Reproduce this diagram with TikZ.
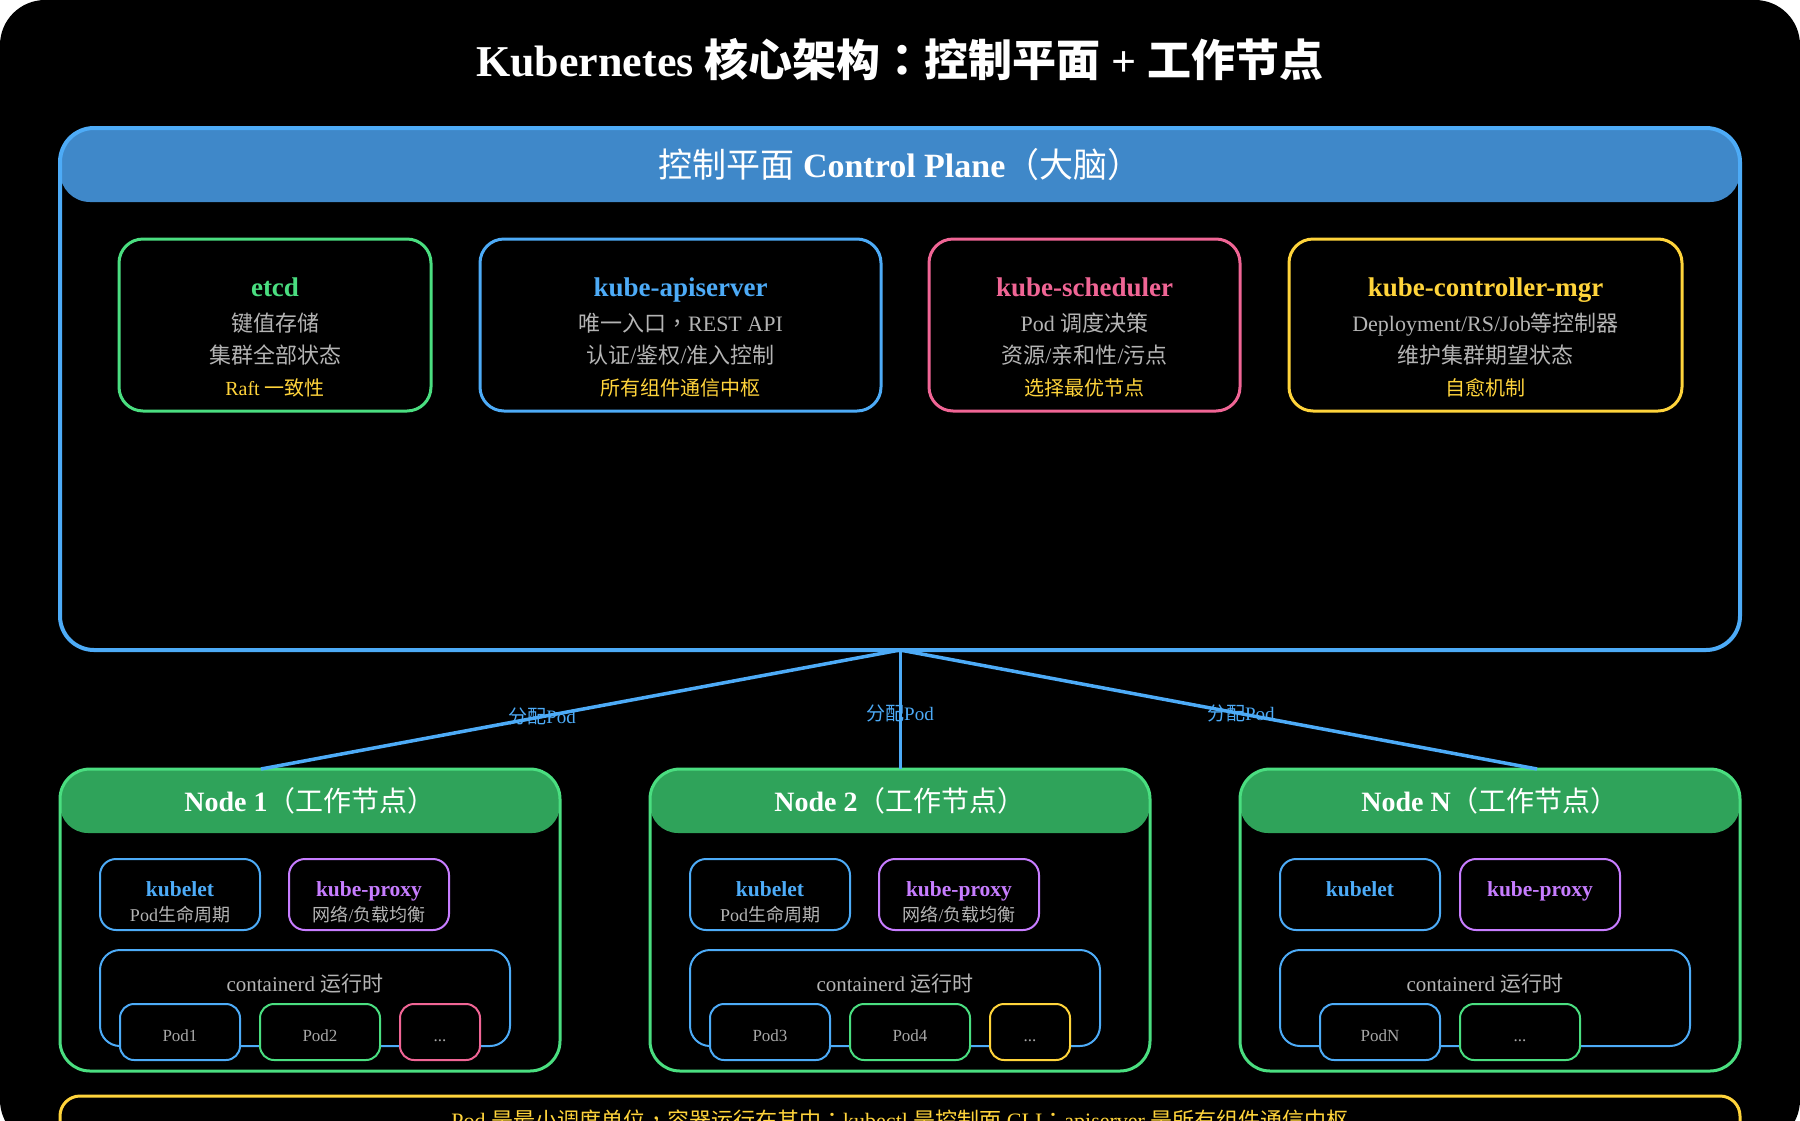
\documentclass[tikz,border=0pt]{standalone}
\usepackage{fontspec}
\setmainfont{Liberation Serif}
\newfontfamily\cjk{Noto Sans CJK SC}
\newfontfamily\cjkpunct{Noto Sans CJK TC}
\usetikzlibrary{positioning,calc}

% Chinese characters switch to the CJK font by themselves
\XeTeXinterchartokenstate=1
\newXeTeXintercharclass\cjkclass
\newXeTeXintercharclass\punctclass
\newcommand\cjkrange[2]{%
  \count255=#1\relax
  \loop
    \XeTeXcharclass\count255=\cjkclass
    \ifnum\count255<#2\relax
    \advance\count255 by 1\relax
  \repeat}
\cjkrange{"3000}{"303F}
\cjkrange{"4E00}{"9FFF}
\cjkrange{"FF00}{"FFEF}
% centred full-width comma, colon, semicolon
\XeTeXcharclass"FF0C=\punctclass
\XeTeXcharclass"FF1A=\punctclass
\XeTeXcharclass"FF1B=\punctclass
\XeTeXinterchartoks 0 \cjkclass = {\begingroup\cjk}
\XeTeXinterchartoks 4095 \cjkclass = {\begingroup\cjk}
\XeTeXinterchartoks \cjkclass 0 = {\endgroup}
\XeTeXinterchartoks \cjkclass 4095 = {\endgroup}
\XeTeXinterchartoks 0 \punctclass = {\begingroup\cjkpunct}
\XeTeXinterchartoks 4095 \punctclass = {\begingroup\cjkpunct}
\XeTeXinterchartoks \punctclass 0 = {\endgroup}
\XeTeXinterchartoks \punctclass 4095 = {\endgroup}
\XeTeXinterchartoks \cjkclass \punctclass = {\endgroup\begingroup\cjkpunct}
\XeTeXinterchartoks \punctclass \cjkclass = {\endgroup\begingroup\cjk}

\definecolor{cpblue}{HTML}{4DABF7}
\definecolor{headblue}{HTML}{3F88C9}
\definecolor{etcdgreen}{HTML}{4ADE80}
\definecolor{nodegreen}{HTML}{4ADE80}
\definecolor{headgreen}{HTML}{2FA35A}
\definecolor{schedpink}{HTML}{F06595}
\definecolor{noteyellow}{HTML}{FFD43B}
\definecolor{proxypurple}{HTML}{C77DFF}
\definecolor{graytext}{HTML}{B4B4B4}
\definecolor{podtext}{HTML}{A8A8A8}

\begin{document}
\begin{tikzpicture}[
  x=1pt, y=-1pt, outer sep=0pt,
  font=\fontsize{22}{32}\selectfont,
  cpframe/.style={draw=cpblue, line width=4pt, rounded corners=34pt, minimum width=1680pt, minimum height=522pt},
  cphead/.style={fill=headblue, rounded corners=30pt, minimum width=1680pt, minimum height=74pt, text=white, font=\fontsize{34}{38}\selectfont},
  comp/.style={draw=#1, line width=3pt, rounded corners=24pt, minimum height=172pt, align=center, text=graytext, inner sep=2pt},
  wframe/.style={draw=nodegreen, line width=3pt, rounded corners=30pt, minimum width=500pt, minimum height=302pt},
  whead/.style={fill=headgreen, rounded corners=28pt, minimum width=500pt, minimum height=64pt, text=white, font=\fontsize{28}{32}\selectfont},
  agent/.style={draw=#1, line width=2pt, rounded corners=16pt, minimum width=160pt, minimum height=71pt, align=center, text=graytext, inner sep=1pt, font=\fontsize{18}{25}\selectfont},
  runtime/.style={draw=cpblue, line width=2pt, rounded corners=20pt, minimum width=410pt, minimum height=96pt, text=graytext, inner sep=1pt, font=\fontsize{21}{25}\selectfont},
  pod/.style={draw=#1, line width=2pt, fill=black, rounded corners=14pt, minimum width=120pt, minimum height=56pt, text height=18pt, text depth=0pt, text=podtext, font=\fontsize{17}{20}\selectfont},
  link/.style={draw=cpblue, line width=3.5pt},
  linklabel/.style={text=cpblue, font=\fontsize{19}{22}\selectfont},
  note/.style={draw=noteyellow, line width=3pt, rounded corners=20pt, minimum width=1680pt, minimum height=52pt, text=noteyellow, font=\fontsize{22}{26}\selectfont}
]
% backdrop
\useasboundingbox (0,0) rectangle (1800,1120);
\fill[white] (0,0) rectangle (1800,1120);
\fill[black, rounded corners=45pt] (0,0) rectangle (1800,1145);

\node[text=white, font=\fontsize{44}{50}\selectfont\bfseries] (title) at (900,60) {Kubernetes 核心架构：控制平面 + 工作节点};

% control plane
\node[cphead] (cphead) at (900,165) {控制平面 \textbf{Control Plane}（大脑）};
\node[cpframe, anchor=north] (cp) at (cphead.north) {};

\node[comp=etcdgreen, minimum width=312pt, below right=37pt and 59pt of cphead.south west] (etcd)
  {{\fontsize{27}{32}\selectfont\bfseries\color{etcdgreen}\rule{0pt}{45pt}etcd}\\[3pt]
   键值存储\\
   集群全部状态\\
   {\fontsize{20}{32}\selectfont\color{noteyellow}Raft 一致性\rule[-4pt]{0pt}{4pt}}};
\node[comp=cpblue, minimum width=401pt, right=49pt of etcd] (apiserver)
  {{\fontsize{27}{32}\selectfont\bfseries\color{cpblue}\rule{0pt}{45pt}kube-apiserver}\\[3pt]
   唯一入口，REST API\\
   认证/鉴权/准入控制\\
   {\fontsize{20}{32}\selectfont\color{noteyellow}所有组件通信中枢\rule[-4pt]{0pt}{4pt}}};
\node[comp=schedpink, minimum width=311pt, right=48pt of apiserver] (scheduler)
  {{\fontsize{27}{32}\selectfont\bfseries\color{schedpink}\rule{0pt}{45pt}kube-scheduler}\\[3pt]
   Pod 调度决策\\
   资源/亲和性/污点\\
   {\fontsize{20}{32}\selectfont\color{noteyellow}选择最优节点\rule[-4pt]{0pt}{4pt}}};
\node[comp=noteyellow, minimum width=393pt, right=49pt of scheduler] (ctrlmgr)
  {{\fontsize{27}{32}\selectfont\bfseries\color{noteyellow}\rule{0pt}{45pt}kube-controller-mgr}\\[3pt]
   Deployment/RS/Job等控制器\\
   维护集群期望状态\\
   {\fontsize{20}{32}\selectfont\color{noteyellow}自愈机制\rule[-4pt]{0pt}{4pt}}};

% worker node 1
\node[whead] (head1) at (310,801) {\textbf{Node 1}（工作节点）};
\node[wframe, anchor=north] (node1) at (head1.north) {};
\node[agent=cpblue, below right=26pt and 40pt of head1.south west] (kubelet1)
  {{\fontsize{21.5}{25}\selectfont\bfseries\color{cpblue}\rule{0pt}{31pt}kubelet}\\ Pod生命周期\rule[-3pt]{0pt}{3pt}};
\node[agent=proxypurple, right=29pt of kubelet1] (proxy1)
  {{\fontsize{21.5}{25}\selectfont\bfseries\color{proxypurple}\rule{0pt}{31pt}kube-proxy}\\ 网络/负载均衡\rule[-3pt]{0pt}{3pt}};
\node[runtime, below right=20pt and 0pt of kubelet1.south west] (runtime1) {\rule{0pt}{20pt}containerd 运行时\rule[-34pt]{0pt}{34pt}};
\node[pod=cpblue, below right=54pt and 20pt of runtime1.north west] (pod1) {Pod1};
\node[pod=nodegreen, right=20pt of pod1] (pod2) {Pod2};
\node[pod=schedpink, minimum width=80pt, right=20pt of pod2] (more1) {...};

% worker node 2
\node[whead] (head2) at (900,801) {\textbf{Node 2}（工作节点）};
\node[wframe, anchor=north] (node2) at (head2.north) {};
\node[agent=cpblue, below right=26pt and 40pt of head2.south west] (kubelet2)
  {{\fontsize{21.5}{25}\selectfont\bfseries\color{cpblue}\rule{0pt}{31pt}kubelet}\\ Pod生命周期\rule[-3pt]{0pt}{3pt}};
\node[agent=proxypurple, right=29pt of kubelet2] (proxy2)
  {{\fontsize{21.5}{25}\selectfont\bfseries\color{proxypurple}\rule{0pt}{31pt}kube-proxy}\\ 网络/负载均衡\rule[-3pt]{0pt}{3pt}};
\node[runtime, below right=20pt and 0pt of kubelet2.south west] (runtime2) {\rule{0pt}{20pt}containerd 运行时\rule[-34pt]{0pt}{34pt}};
\node[pod=cpblue, below right=54pt and 20pt of runtime2.north west] (pod3) {Pod3};
\node[pod=nodegreen, right=20pt of pod3] (pod4) {Pod4};
\node[pod=noteyellow, minimum width=80pt, right=20pt of pod4] (more2) {...};

% worker node N
\node[whead] (head3) at (1490,801) {\textbf{Node N}（工作节点）};
\node[wframe, anchor=north] (node3) at (head3.north) {};
\node[agent=cpblue, below right=26pt and 40pt of head3.south west] (kubelet3)
  {\bfseries\fontsize{21.5}{25}\selectfont\color{cpblue}\rule[-28pt]{0pt}{59pt}kubelet};
\node[agent=proxypurple, right=20pt of kubelet3] (proxy3)
  {\bfseries\fontsize{21.5}{25}\selectfont\color{proxypurple}\rule[-28pt]{0pt}{59pt}kube-proxy};
\node[runtime, below right=20pt and 0pt of kubelet3.south west] (runtime3) {\rule{0pt}{20pt}containerd 运行时\rule[-34pt]{0pt}{34pt}};
\node[pod=cpblue, below right=54pt and 40pt of runtime3.north west] (podN) {PodN};
\node[pod=nodegreen, right=20pt of podN] (more3) {...};

% control plane hands pods to the workers
\coordinate (in1) at ($(node1.north)+(-49,0)$);
\coordinate (in3) at ($(node3.north)+(47,0)$);
\draw[link] (cp.south) -- node[linklabel, pos=0.56] {分配Pod} (in1);
\draw[link, line width=3pt] (cp.south) -- node[linklabel, pos=0.53] {分配Pod} (node2.north);
\draw[link] (cp.south) -- node[linklabel, pos=0.535] {分配Pod} (in3);

\node[note, below=25pt of node2] (note) {Pod 是最小调度单位，容器运行在其中；kubectl 是控制面 CLI；apiserver 是所有组件通信中枢};
\end{tikzpicture}
\end{document}
